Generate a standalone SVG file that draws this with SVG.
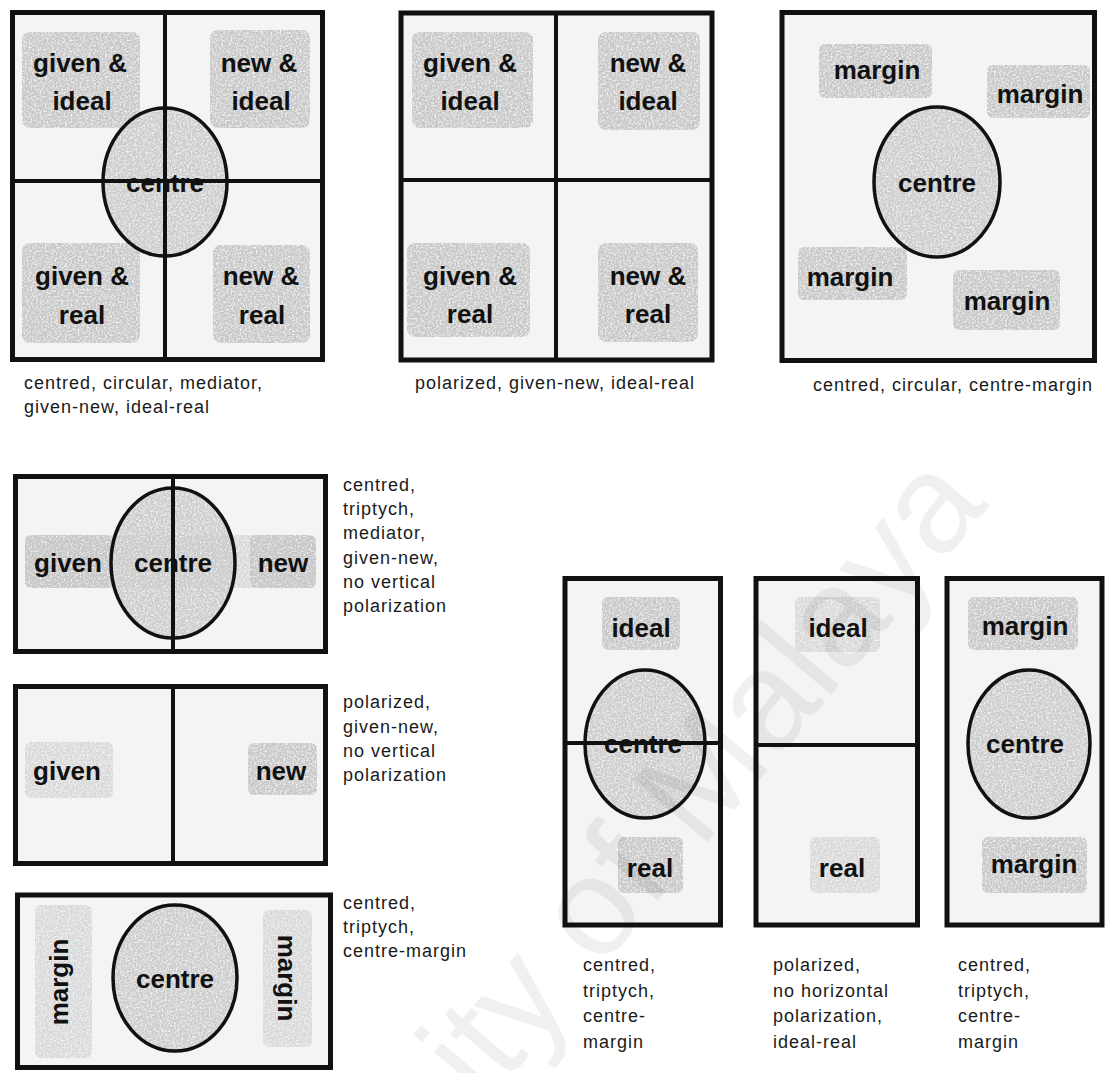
<svg xmlns="http://www.w3.org/2000/svg" width="1115" height="1073" viewBox="0 0 1115 1073">
<defs>
<filter id="grain" x="0" y="0" width="1" height="1">
<feTurbulence type="fractalNoise" baseFrequency="0.55" numOctaves="2" seed="4" result="n"/>
<feColorMatrix in="n" type="matrix" values="0 0 0 0 0  0 0 0 0 0  0 0 0 0 0  2.6 0 0 0 -0.55" result="a"/>
<feComposite in="SourceGraphic" in2="a" operator="in"/>
</filter>
<style>
.frame{fill:#f4f4f4;stroke:#111;stroke-width:5}
.div{stroke:#111;stroke-width:4;fill:none}
.oval{fill:none;stroke:#111;stroke-width:3.5}
.ovalfill{fill:#cbcbcb;filter:url(#grain)}
.patch{fill:#c6c6c6;filter:url(#grain)}
.lite{fill:#d8d8d8;filter:url(#grain)}
.lbl{font-family:"Liberation Sans",Arial,sans-serif;font-weight:bold;font-size:26px;fill:#111;text-anchor:middle}
.cap{font-family:"Liberation Sans",Arial,sans-serif;font-size:18px;letter-spacing:1px;fill:#1a1a1a}
.mid{text-anchor:middle}
.wm{font-family:"Liberation Sans",Arial,sans-serif;font-size:140px;fill:#000;opacity:0.055}
</style>
</defs>
<rect width="1115" height="1073" fill="#fff"/>

<g id="box1">
<rect class="frame" x="12.5" y="12.5" width="310" height="347"/>
<rect class="patch" x="22" y="32" width="118" height="96" rx="8"/>
<rect class="patch" x="210" y="30" width="100" height="98" rx="8"/>
<rect class="patch" x="22" y="243" width="118" height="100" rx="8"/>
<rect class="patch" x="213" y="245" width="97" height="98" rx="8"/>
<ellipse class="ovalfill" cx="165" cy="182" rx="62" ry="74"/>
<line class="div" x1="165" y1="12" x2="165" y2="360"/>
<line class="div" x1="12" y1="181" x2="323" y2="181"/>
<ellipse class="oval" cx="165" cy="182" rx="62" ry="74"/>
<text class="lbl" x="80" y="72">given &amp;</text>
<text class="lbl" x="82" y="110">ideal</text>
<text class="lbl" x="259" y="72">new &amp;</text>
<text class="lbl" x="261" y="110">ideal</text>
<text class="lbl" x="82" y="285">given &amp;</text>
<text class="lbl" x="82" y="324">real</text>
<text class="lbl" x="261" y="285">new &amp;</text>
<text class="lbl" x="262" y="324">real</text>
<text class="lbl" x="165" y="192">centre</text>
<text class="cap" x="24" y="389">centred, circular, mediator,</text>
<text class="cap" x="24" y="413">given-new, ideal-real</text>
</g>

<g id="box2">
<rect class="frame" x="401" y="13" width="311" height="347"/>
<rect class="patch" x="412" y="32" width="121" height="96" rx="8"/>
<rect class="patch" x="598" y="32" width="102" height="98" rx="8"/>
<rect class="patch" x="407" y="243" width="123" height="94" rx="8"/>
<rect class="patch" x="598" y="243" width="100" height="99" rx="8"/>
<line class="div" x1="556" y1="13" x2="556" y2="360"/>
<line class="div" x1="401" y1="180" x2="712" y2="180"/>
<text class="lbl" x="470" y="72">given &amp;</text>
<text class="lbl" x="470" y="110">ideal</text>
<text class="lbl" x="648" y="72">new &amp;</text>
<text class="lbl" x="648" y="110">ideal</text>
<text class="lbl" x="470" y="285">given &amp;</text>
<text class="lbl" x="470" y="323">real</text>
<text class="lbl" x="648" y="285">new &amp;</text>
<text class="lbl" x="648" y="323">real</text>
<text class="cap mid" x="555" y="389">polarized, given-new, ideal-real</text>
</g>

<g id="box3">
<rect class="frame" x="782" y="12.5" width="312.5" height="348"/>
<rect class="patch" x="819" y="44" width="113" height="54" rx="6"/>
<rect class="patch" x="987" y="65" width="103" height="53" rx="6"/>
<rect class="patch" x="798" y="247" width="109" height="53" rx="6"/>
<rect class="patch" x="953" y="270" width="107" height="60" rx="6"/>
<ellipse class="ovalfill" cx="937" cy="182" rx="63" ry="75"/>
<ellipse class="oval" cx="937" cy="182" rx="63" ry="75"/>
<text class="lbl" x="877" y="79">margin</text>
<text class="lbl" x="1040" y="103">margin</text>
<text class="lbl" x="850" y="286">margin</text>
<text class="lbl" x="1007" y="310">margin</text>
<text class="lbl" x="937" y="192">centre</text>
<text class="cap mid" x="953" y="391">centred, circular, centre-margin</text>
</g>

<g id="box4">
<rect class="frame" x="15.5" y="476.5" width="310" height="175"/>
<rect class="lite" x="25" y="535" width="290" height="53" rx="6"/>
<rect class="patch" x="25" y="535" width="87" height="53" rx="6"/>
<rect class="patch" x="250" y="535" width="66" height="53" rx="6"/>
<ellipse class="ovalfill" cx="173" cy="563" rx="62" ry="75"/>
<line class="div" x1="173" y1="476" x2="173" y2="652"/>
<ellipse class="oval" cx="173" cy="563" rx="62" ry="75"/>
<text class="lbl" x="68" y="572">given</text>
<text class="lbl" x="173" y="572">centre</text>
<text class="lbl" x="283" y="572">new</text>
<text class="cap" x="343" y="491">centred,</text>
<text class="cap" x="343" y="515">triptych,</text>
<text class="cap" x="343" y="539">mediator,</text>
<text class="cap" x="343" y="564">given-new,</text>
<text class="cap" x="343" y="588">no vertical</text>
<text class="cap" x="343" y="612">polarization</text>
</g>

<g id="box5">
<rect class="frame" x="15.5" y="686.5" width="310" height="177"/>
<rect class="lite" x="25" y="742" width="88" height="56" rx="6"/>
<rect class="patch" x="248" y="743" width="69" height="52" rx="6"/>
<line class="div" x1="173" y1="686" x2="173" y2="864"/>
<text class="lbl" x="67" y="780">given</text>
<text class="lbl" x="281" y="780">new</text>
<text class="cap" x="343" y="708">polarized,</text>
<text class="cap" x="343" y="733">given-new,</text>
<text class="cap" x="343" y="757">no vertical</text>
<text class="cap" x="343" y="781">polarization</text>
</g>

<g id="box6">
<rect class="frame" x="17.5" y="895" width="313" height="172.5"/>
<rect class="lite" x="35" y="905" width="57" height="153" rx="6"/>
<rect class="lite" x="263" y="910" width="49" height="137" rx="6"/>
<ellipse class="ovalfill" cx="175" cy="978" rx="62" ry="73"/>
<ellipse class="oval" cx="175" cy="978" rx="62" ry="73"/>
<text class="lbl" x="175" y="988">centre</text>
<text class="lbl" transform="translate(68,982) rotate(-90)">margin</text>
<text class="lbl" transform="translate(278,978) rotate(90)">margin</text>
<text class="cap" x="343" y="909">centred,</text>
<text class="cap" x="343" y="933">triptych,</text>
<text class="cap" x="343" y="957">centre-margin</text>
</g>

<g id="box7">
<rect class="frame" x="565" y="578.5" width="155.5" height="346.5"/>
<rect class="patch" x="602" y="597" width="78" height="53" rx="6"/>
<rect class="patch" x="618" y="837" width="65" height="56" rx="6"/>
<ellipse class="ovalfill" cx="645" cy="744" rx="60" ry="74"/>
<line class="div" x1="565" y1="743" x2="720" y2="743"/>
<ellipse class="oval" cx="645" cy="744" rx="60" ry="74"/>
<text class="lbl" x="641" y="637">ideal</text>
<text class="lbl" x="643" y="753">centre</text>
<text class="lbl" x="650" y="877">real</text>
<text class="cap" x="583" y="971">centred,</text>
<text class="cap" x="583" y="997">triptych,</text>
<text class="cap" x="583" y="1022">centre-</text>
<text class="cap" x="583" y="1048">margin</text>
</g>

<g id="box8">
<rect class="frame" x="756" y="578.5" width="161.5" height="346.5"/>
<rect class="lite" x="795" y="597" width="85" height="55" rx="6"/>
<rect class="lite" x="810" y="837" width="70" height="56" rx="6"/>
<line class="div" x1="756" y1="745" x2="917" y2="745"/>
<text class="lbl" x="838" y="637">ideal</text>
<text class="lbl" x="842" y="877">real</text>
<text class="cap" x="773" y="971">polarized,</text>
<text class="cap" x="773" y="997">no horizontal</text>
<text class="cap" x="773" y="1022">polarization,</text>
<text class="cap" x="773" y="1048">ideal-real</text>
</g>

<g id="box9">
<rect class="frame" x="947" y="578.5" width="155" height="346.5"/>
<rect class="patch" x="968" y="597" width="110" height="53" rx="6"/>
<rect class="patch" x="982" y="837" width="105" height="56" rx="6"/>
<ellipse class="ovalfill" cx="1029" cy="744" rx="61" ry="74"/>
<ellipse class="oval" cx="1029" cy="744" rx="61" ry="74"/>
<text class="lbl" x="1025" y="635">margin</text>
<text class="lbl" x="1025" y="753">centre</text>
<text class="lbl" x="1034" y="873">margin</text>
<text class="cap" x="958" y="971">centred,</text>
<text class="cap" x="958" y="997">triptych,</text>
<text class="cap" x="958" y="1022">centre-</text>
<text class="cap" x="958" y="1048">margin</text>
</g>

<text class="wm" text-anchor="end" transform="translate(990,505) rotate(-50)">University of Malaya</text>
</svg>
